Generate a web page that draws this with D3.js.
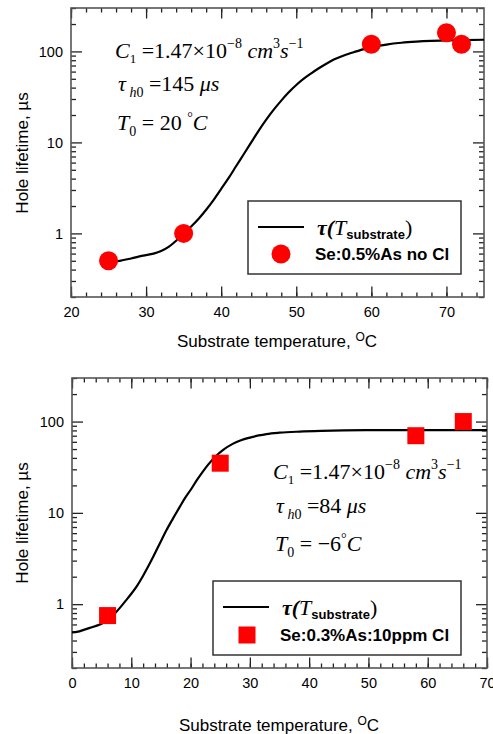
<!DOCTYPE html>
<html>
<head>
<meta charset="utf-8">
<script src="https://cdn.jsdelivr.net/npm/d3@7"></script>
<style>
  body { margin: 0; background: #fff; }
  svg { display: block; }
  .tick text { font-family: "Liberation Sans", Arial, sans-serif; font-size: 14.5px; fill: #000; }
</style>
</head>
<body>
<svg id="svg" width="493" height="734"></svg>
<script>
// ---- data ----
// top panel: Se:0.5%As no Cl
var topPtsT   = [25, 35, 60, 70, 72];
var topPtsTau = [0.5, 1.0, 120, 160, 120];
var topCurveT   = [25, 26.5, 28, 29.6, 31, 32, 33, 34, 35, 36, 37, 38, 39, 40, 41, 42, 43, 44, 45, 46, 47, 48, 49, 50, 51, 52, 53, 54, 55, 56, 57, 58, 59, 60, 62, 64, 66, 68, 70, 72, 75];
var topCurveTau = [0.49, 0.5, 0.53, 0.57, 0.6, 0.64, 0.71, 0.83, 1.0, 1.19, 1.45, 1.82, 2.34, 3.09, 4.07, 5.5, 7.41, 10, 13.5, 17.8, 22.9, 28.8, 35.5, 42.7, 50.1, 57.5, 65.3, 73.3, 81.3, 88.1, 94.4, 100, 106, 111, 119, 124.5, 128, 130.3, 131.8, 133, 134.3];
var topTicksX = [20, 30, 40, 50, 60, 70];

// bottom panel: Se:0.3%As:10ppm Cl
var botPtsT   = [6, 25, 58, 66];
var botPtsTau = [0.75, 35, 70, 100];
var botCurveT   = [0, 1, 1.85, 3, 4.7, 6, 7, 8, 9, 10, 11, 12, 13, 13.7, 15, 15.9, 17, 18.2, 19, 20, 21, 22.1, 23, 24.3, 25.5, 27.1, 28.5, 30, 31.5, 32.8, 35, 38.4, 42, 49.6, 60, 70];
var botCurveTau = [0.49, 0.5, 0.52, 0.55, 0.6, 0.66, 0.76, 0.9, 1.08, 1.3, 1.6, 2.05, 2.7, 3.3, 4.9, 6.4, 8.6, 11.7, 14.3, 17.8, 22.5, 28.5, 34, 42, 49, 57, 62.5, 66.8, 70.5, 73, 75.5, 77.6, 79, 80.4, 80.6, 80.5];
var botTicksX = [0, 10, 20, 30, 40, 50, 60, 70];

var yTicksMajor = [1, 10, 100];

var svg = d3.select("#svg");
var sans = "'Liberation Sans', Arial, sans-serif";
var serif = "'Liberation Serif', 'Times New Roman', serif";

function panel(o) {
  var x = d3.scaleLinear().domain(o.xDomain).range([o.left, o.right]);
  var y = d3.scaleLog().domain([0.2, 300]).range([o.bottom, o.top]);
  var g = svg.append("g");

  var xMinor = d3.range(o.xDomain[0], o.xDomain[1] + 0.001, 2);
  var yMinor = y.ticks().filter(function(v){ return yTicksMajor.indexOf(v) < 0; });

  function axis(gen, tr) {
    var a = g.append("g").attr("transform", tr).call(gen);
    a.select(".domain").remove();
    a.selectAll("line").attr("stroke", "#222").attr("stroke-width", 1.3);
    return a;
  }
  // bottom / top
  axis(d3.axisBottom(x).tickValues(xMinor).tickSize(-4.5).tickFormat(""), "translate(0," + o.bottom + ")");
  axis(d3.axisBottom(x).tickValues(o.ticksX).tickSize(-10.5).tickPadding(10).tickFormat(d3.format("d")), "translate(0," + o.bottom + ")");
  axis(d3.axisTop(x).tickValues(xMinor).tickSize(-4.5).tickFormat(""), "translate(0," + o.top + ")");
  axis(d3.axisTop(x).tickValues(o.ticksX).tickSize(-10.5).tickFormat(""), "translate(0," + o.top + ")");
  // left / right
  axis(d3.axisLeft(y).tickValues(yMinor).tickSize(-5).tickFormat(""), "translate(" + o.left + ",0)");
  axis(d3.axisLeft(y).tickValues(yTicksMajor).tickSize(-11).tickPadding(8).tickFormat(d3.format("d")), "translate(" + o.left + ",0)");
  axis(d3.axisRight(y).tickValues(yMinor).tickSize(-5).tickFormat(""), "translate(" + o.right + ",0)");
  axis(d3.axisRight(y).tickValues(yTicksMajor).tickSize(-11).tickFormat(""), "translate(" + o.right + ",0)");

  g.append("rect")
    .attr("x", o.left).attr("y", o.top)
    .attr("width", o.right - o.left).attr("height", o.bottom - o.top)
    .attr("fill", "none").attr("stroke", "#555").attr("stroke-width", 1.6);

  // fitted curve
  var line = d3.line()
    .x(function(d){ return x(d[0]); })
    .y(function(d){ return y(d[1]); })
    .curve(d3.curveMonotoneX);
  g.append("path")
    .datum(d3.zip(o.curveT, o.curveTau))
    .attr("d", line)
    .attr("fill", "none").attr("stroke", "#000").attr("stroke-width", 2.2);

  // points
  var pts = d3.zip(o.ptsT, o.ptsTau);
  if (o.marker === "circle") {
    g.selectAll("circle.pt").data(pts).enter().append("circle")
      .attr("class", "pt")
      .attr("cx", function(d){ return x(d[0]); })
      .attr("cy", function(d){ return y(d[1]); })
      .attr("r", 9.5).attr("fill", "#ff0000");
  } else {
    g.selectAll("rect.pt").data(pts).enter().append("rect")
      .attr("class", "pt")
      .attr("x", function(d){ return x(d[0]) - 8.5; })
      .attr("y", function(d){ return y(d[1]) - 8.5; })
      .attr("width", 17).attr("height", 17).attr("fill", "#ff0000");
  }

  // axis titles
  g.append("text")
    .attr("transform", "translate(22," + o.yLabelY + ") rotate(-90)")
    .attr("text-anchor", "middle").attr("dy", "0.35em")
    .attr("font-family", sans).attr("font-size", 17)
    .text("Hole lifetime, µs");
  var xt = g.append("text")
    .attr("x", o.xTitleX).attr("y", o.xTitleY)
    .attr("text-anchor", "middle")
    .attr("font-family", sans).attr("font-size", 17);
  xt.append("tspan").text("Substrate temperature, ");
  xt.append("tspan").attr("dy", -6).attr("font-size", 12).text("O");
  xt.append("tspan").attr("dy", 6).text("C");

  // equation block
  var ex = o.eqX, fs = 22;
  var t1 = g.append("text").attr("x", ex).attr("y", o.eqY[0]).attr("font-family", serif).attr("font-size", fs);
  t1.append("tspan").attr("font-style", "italic").text("C");
  t1.append("tspan").attr("font-size", 13).attr("dy", 5).text("1");
  t1.append("tspan").attr("dy", -5).text(" =1.47×10");
  t1.append("tspan").attr("font-size", 14).attr("dy", -10).text("−8");
  t1.append("tspan").attr("dy", 10).attr("font-style", "italic").text(" cm");
  t1.append("tspan").attr("font-size", 14).attr("dy", -10).text("3");
  t1.append("tspan").attr("dy", 10).attr("font-style", "italic").text("s");
  t1.append("tspan").attr("font-size", 14).attr("dy", -10).text("−1");

  var t2 = g.append("text").attr("x", ex + 3).attr("y", o.eqY[1]).attr("font-family", serif).attr("font-size", fs);
  t2.append("tspan").attr("font-style", "italic").text("τ");
  t2.append("tspan").attr("font-size", 14).attr("dy", 6).attr("font-style", "italic").text(" h");
  t2.append("tspan").attr("font-size", 14).text("0");
  t2.append("tspan").attr("dy", -6).text(" =" + o.tau0 + " ");
  t2.append("tspan").attr("font-style", "italic").text("μs");

  var t3 = g.append("text").attr("x", ex + 2).attr("y", o.eqY[2]).attr("font-family", serif).attr("font-size", fs);
  t3.append("tspan").attr("font-style", "italic").text("T");
  t3.append("tspan").attr("font-size", 14).attr("dy", 6).text("0");
  t3.append("tspan").attr("dy", -6).text(" = " + o.T0);
  t3.append("tspan").attr("font-size", 14).attr("dy", -8).text("°");
  t3.append("tspan").attr("dy", 8).attr("font-style", "italic").text("C");

  // legend
  var L = o.legend;
  g.append("rect").attr("x", L.x0).attr("y", L.y0)
    .attr("width", L.x1 - L.x0).attr("height", L.y1 - L.y0)
    .attr("fill", "#fff").attr("stroke", "#333").attr("stroke-width", 1.5);
  g.append("line").attr("x1", L.lx0).attr("x2", L.lx1).attr("y1", L.ly).attr("y2", L.ly)
    .attr("stroke", "#000").attr("stroke-width", 2.2);
  var lt = g.append("text").attr("x", L.tx).attr("y", L.ly + 7.5).attr("font-family", serif).attr("font-size", 22);
  lt.append("tspan").attr("font-style", "italic").attr("font-weight", "bold").text("τ(");
  lt.append("tspan").attr("font-style", "italic").text("T");
  lt.append("tspan").attr("font-family", sans).attr("font-weight", "bold").attr("font-size", 13).attr("dy", 4).text("substrate");
  lt.append("tspan").attr("dy", -4).text(")");
  if (o.marker === "circle") {
    g.append("circle").attr("cx", L.mx).attr("cy", L.my).attr("r", 9.5).attr("fill", "#ff0000");
  } else {
    g.append("rect").attr("x", L.mx - 8.5).attr("y", L.my - 8.5).attr("width", 17).attr("height", 17).attr("fill", "#ff0000");
  }
  g.append("text").attr("x", L.sx).attr("y", L.my + 6)
    .attr("font-family", sans).attr("font-weight", "bold").attr("font-size", 17)
    .text(o.name);
}

panel({
  xDomain: [20, 75], left: 71, right: 484, top: 8, bottom: 297,
  ticksX: topTicksX, curveT: topCurveT, curveTau: topCurveTau,
  ptsT: topPtsT, ptsTau: topPtsTau, marker: "circle",
  yLabelY: 153, xTitleX: 277, xTitleY: 347,
  eqX: 115, eqY: [58, 91, 130], tau0: "145", T0: "20 ",
  name: "Se:0.5%As no Cl",
  legend: { x0: 248, y0: 201, x1: 461, y1: 274, lx0: 258, lx1: 304, ly: 227, tx: 317, mx: 281, my: 254, sx: 315 }
});

panel({
  xDomain: [0, 70], left: 72, right: 487, top: 378, bottom: 668,
  ticksX: botTicksX, curveT: botCurveT, curveTau: botCurveTau,
  ptsT: botPtsT, ptsTau: botPtsTau, marker: "square",
  yLabelY: 523, xTitleX: 279, xTitleY: 731,
  eqX: 273, eqY: [479, 513, 551], tau0: "84", T0: "−6",
  name: "Se:0.3%As:10ppm Cl",
  legend: { x0: 213, y0: 581, x1: 461, y1: 655, lx0: 223, lx1: 269, ly: 607, tx: 282, mx: 247, my: 635, sx: 280 }
});
</script>
</body>
</html>
